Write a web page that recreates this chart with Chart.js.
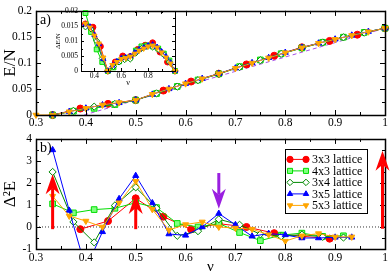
<!DOCTYPE html>
<html>
<head>
<meta charset="utf-8">
<script src="https://cdn.jsdelivr.net/npm/chart.js@4.4.1/dist/chart.umd.min.js"></script>
<style>
  html, body { margin: 0; padding: 0; background: #fff; }
  #wrap { position: relative; width: 390px; height: 273px; overflow: hidden; }
  canvas { position: absolute; }
  #top { left: 0; top: 0; }
  #bottom { left: 0; top: 128px; }
  #inset { left: 48px; top: 3px; }
</style>
</head>
<body>
<div id="wrap">
  <canvas id="top" width="390" height="128"></canvas>
  <canvas id="bottom" width="390" height="145"></canvas>
  <canvas id="inset" width="132" height="88"></canvas>
</div>
<script>
// ---- data ----
const labels = ["3x3 lattice", "4x3 lattice", "3x4 lattice", "3x5 lattice", "5x3 lattice"];

// fillings
const nu18 = [6/18, 7/18, 8/18, 9/18, 10/18, 11/18, 12/18, 13/18, 14/18, 15/18, 16/18, 17/18, 18/18];
const nu24 = [8/24, 9/24, 10/24, 11/24, 12/24, 13/24, 14/24, 15/24, 16/24, 17/24, 18/24, 19/24, 20/24, 21/24, 22/24, 23/24, 24/24];
const nu30 = [10/30, 11/30, 12/30, 13/30, 14/30, 15/30, 16/30, 17/30, 18/30, 19/30, 20/30,
              21/30, 22/30, 23/30, 24/30, 25/30, 26/30, 27/30, 28/30, 29/30, 30/30];
const nu30b = [9/30, 10/30, 11/30, 12/30, 13/30, 14/30, 15/30, 16/30, 17/30, 18/30, 19/30, 20/30,
               21/30, 22/30, 23/30, 24/30, 25/30, 26/30, 27/30, 28/30, 29/30, 30/30];

// panel a): E/N
const en3x3 = [0.000, 0.0124, 0.0214, 0.0286, 0.0469, 0.0643, 0.0794, 0.0972, 0.1139, 0.1301, 0.1423, 0.1543, 0.1667];
const en4x3 = [0.000, 0.0073, 0.0128, 0.0201, 0.0286, 0.0413, 0.0548, 0.0673, 0.0791, 0.0929, 0.1058, 0.1177, 0.1289, 0.1397, 0.1495, 0.1587, 0.1667];
const en3x4 = [0.000, 0.0081, 0.0161, 0.0213, 0.0286, 0.0416, 0.0546, 0.0669, 0.0786, 0.0921, 0.1051, 0.1174, 0.1287, 0.1394, 0.1492, 0.1582, 0.1667];
const en3x5 = [0.000, 0.0066, 0.0130, 0.0192, 0.0234, 0.0286, 0.0396, 0.0502, 0.0604, 0.0699, 0.0796,
               0.0900, 0.1002, 0.1100, 0.1200, 0.1295, 0.1379, 0.1456, 0.1531, 0.1603, 0.1667];
const en5x3 = [0.000, 0.000, 0.0063, 0.0128, 0.0194, 0.0239, 0.0286, 0.0398, 0.0500, 0.0602, 0.0697, 0.0794,
               0.0896, 0.0998, 0.1097, 0.1197, 0.1292, 0.1377, 0.1453, 0.1528, 0.1600, 0.1667];
// violet dashed reference line
const refNu = [0.3965, 1.0];
const refEn = [0.0, 0.1667];

// inset: dE/N
const de3x3 = [0.0157, 0.0146, 0.0082, 0, 0.0030, 0.0050, 0.0048, 0.0072, 0.0086, 0.0094, 0.0063, 0.0030, 0];
const de4x3 = [0.0193, 0.0130, 0.0072, 0.0030, 0, 0.0012, 0.0032, 0.0042, 0.0045, 0.0068, 0.0082, 0.0085, 0.0082, 0.0075, 0.0058, 0.0035, 0];
const de3x4 = [0.0147, 0.0140, 0.0100, 0.0042, 0, 0.0015, 0.0030, 0.0038, 0.0040, 0.0060, 0.0075, 0.0082, 0.0080, 0.0072, 0.0055, 0.0030, 0];
const de3x5 = [0.0155, 0.0148, 0.0120, 0.0090, 0.0040, 0, 0.0018, 0.0032, 0.0042, 0.0045, 0.0050,
               0.0062, 0.0072, 0.0078, 0.0085, 0.0088, 0.0080, 0.0065, 0.0048, 0.0028, 0];
const de5x3 = [0.0158, 0.0145, 0.0118, 0.0092, 0.0045, 0, 0.0020, 0.0030, 0.0040, 0.0043, 0.0048,
               0.0058, 0.0068, 0.0075, 0.0082, 0.0085, 0.0078, 0.0062, 0.0045, 0.0025, 0];

// panel b): second difference
const gNu18 = [7/18, 8/18, 9/18, 10/18, 11/18, 12/18, 13/18, 14/18, 15/18, 16/18];
const gNu24 = [8/24, 9/24, 10/24, 11/24, 12/24, 13/24, 14/24, 15/24, 16/24, 17/24, 18/24, 19/24, 20/24, 21/24, 22/24];
const gNu30 = [10/30, 11/30, 12/30, 13/30, 14/30, 15/30, 16/30, 17/30, 18/30, 19/30,
               20/30, 21/30, 22/30, 23/30, 24/30, 25/30, 26/30, 27/30, 28/30];
const gap3x3 = [-0.1, 0.27, 1.3, 0.47, -0.11, 0.15, 0.0, -0.28, -0.42, -0.53];
const gap4x3 = [1.05, 0.64, 0.79, 0.85, 1.1, 0.88, 0.16, 0.0, 0.16, -0.25, -0.62, -0.37, -0.28, -0.43, -0.4];
const gap3x4 = [2.5, 0.23, -0.7, 0.98, 1.8, 0.85, -0.4, -0.19, 0.35, 0.1, -0.33, -0.42, -0.35, -0.45, -0.48];
const gap3x5 = [3.5, 0.75, -1.9, -0.22, 1.28, 2.33, 1.09, -0.32, -0.38, 0.0, 0.61, 0.1, -0.42, -0.3, -0.36, -0.5, -0.5, -0.47, -0.47];
const gap5x3 = [1.4, 0.5, 0.27, 0.0, 1.1, 2.08, 0.8, -0.14, 0.11, 0.23, 0.0, -0.05, -0.1, -0.35, -0.64, -0.4, -0.3, -0.45, -0.45];
const zeroNu = [0.3, 1.0];
const zeroY = [0, 0];

// arrows in panel b)
const arrowNu = [1/3, 0.5, 2/3, 0.995];
const arrowFrom = [-0.1, -0.1, 2.45, -0.08];
const arrowTo = [2.4, 1.5, 0.83, 3.46];
const arrowColor = ["#ff0000", "#ff0000", "#9a1fe0", "#ff0000"];

// ticks
const xTicks = [0.3, 0.4, 0.5, 0.6, 0.7, 0.8, 0.9, 1.0];
const xTickLabels = ["0.3", "0.4", "0.5", "0.6", "0.7", "0.8", "0.9", "1"];
const enTicks = [0, 0.05, 0.1, 0.15, 0.2];
const enTickLabels = ["0", "0.05", "0.1", "0.15", "0.2"];
const gapTicks = [-1, 0, 1, 2, 3, 4];
const gapTickLabels = ["-1", "0", "1", "2", "3", "4"];
const inXTicks = [0.4, 0.6, 0.8, 1.0];
const inXTickLabels = ["0.4", "0.6", "0.8", ""];
const inYTicks = [0, 0.005, 0.01, 0.015, 0.02];
const inYTickLabels = ["0", "0.005", "0.01", "0.015", "0.02"];

// ---- styling ----
const SERIF = '"Liberation Serif", "DejaVu Serif", serif';
const styles = [
    { color: "#ff0000", fill: "#ff0000", shape: "circle", r: 3.5, rot: 0 },
    { color: "#00dd00", fill: "#80ff80", shape: "rect", r: 4, rot: 0 },
    { color: "#008a00", fill: "#ffffff", shape: "rectRot", r: 3.6, rot: 0 },
    { color: "#0000ff", fill: "#0000ff", shape: "triangle", r: 3.5, rot: 0 },
    { color: "#ffa500", fill: "#ffa500", shape: "triangle", r: 3.5, rot: 180 },
];

const pts = (xs, ys) => xs.map((x, i) => ({ x: x, y: ys[i] }));

function seriesSets(xsList, ysList, rScale, clip) {
    return ysList.map((ys, i) => {
        const s = styles[i];
        return {
            label: labels[i],
            inLegend: true,
            data: pts(xsList[i], ys),
            showLine: true,
            borderColor: s.color,
            backgroundColor: s.fill,
            borderWidth: 1,
            pointStyle: s.shape,
            pointRotation: s.rot,
            pointRadius: s.r * rScale,
            pointBorderColor: s.color,
            pointBackgroundColor: s.fill,
            pointBorderWidth: 1,
            clip: clip,
            order: 5 - i,
        };
    });
}

function linAxis(min, max, ticks, tickLabels, o) {
    const ax = {
        type: "linear",
        min: min,
        max: max,
        grid: { display: false, drawTicks: false, tickLength: 0 },
        border: { display: false },
        afterBuildTicks: (s) => { s.ticks = ticks.map((v) => ({ value: v })); },
        ticks: {
            autoSkip: false,
            maxRotation: 0,
            padding: o.pad,
            color: "#000",
            font: { family: SERIF, size: o.fs },
            callback: (v, i) => tickLabels[i],
        },
        title: { display: false },
    };
    if (o.w !== undefined) ax.afterFit = (s) => { s.width = o.w; };
    if (o.h !== undefined) ax.afterFit = (s) => { s.height = o.h; };
    if (o.title) {
        ax.title = {
            display: true,
            text: o.title,
            color: "#000",
            font: { family: SERIF, size: o.tfs, lineHeight: o.tlh || 1.2 },
            padding: o.tpad,
        };
    }
    return ax;
}

// frame with inward ticks on all four sides, plus panel tag
const frameTicks = {
    id: "frameTicks",
    afterDatasetsDraw(chart, args, o) {
        const { ctx, chartArea: a } = chart;
        const xs = chart.scales.x, ys = chart.scales.y;
        ctx.save();
        ctx.strokeStyle = "#000";
        ctx.lineWidth = 1;
        ctx.beginPath();
        const xTick = (v, len) => {
            const px = Math.round(xs.getPixelForValue(v)) + 0.5;
            ctx.moveTo(px, a.bottom); ctx.lineTo(px, a.bottom - len);
            ctx.moveTo(px, a.top); ctx.lineTo(px, a.top + len);
        };
        const yTick = (v, len) => {
            const py = Math.round(ys.getPixelForValue(v)) + 0.5;
            ctx.moveTo(a.left, py); ctx.lineTo(a.left + len, py);
            ctx.moveTo(a.right, py); ctx.lineTo(a.right - len, py);
        };
        for (let k = Math.ceil(xs.min / o.xMinor - 1e-6); k * o.xMinor <= xs.max + 1e-9; k++) xTick(k * o.xMinor, o.minor);
        for (let k = Math.ceil(ys.min / o.yMinor - 1e-6); k * o.yMinor <= ys.max + 1e-9; k++) yTick(k * o.yMinor, o.minor);
        xs.ticks.forEach((t) => xTick(t.value, o.major));
        ys.ticks.forEach((t) => yTick(t.value, o.major));
        ctx.stroke();
        ctx.lineWidth = o.frame;
        ctx.strokeRect(Math.round(a.left) + 0.5, Math.round(a.top) + 0.5,
            Math.round(a.right - a.left), Math.round(a.bottom - a.top));
        if (o.tag) {
            ctx.fillStyle = "#000";
            ctx.font = "14px " + SERIF;
            ctx.textBaseline = "top";
            ctx.fillText(o.tag, a.left + 4, a.top + 2);
        }
        ctx.restore();
    },
};

// arrows, placed in data units of panel b)
const arrows = {
    id: "arrows",
    afterDatasetsDraw(chart, args, o) {
        if (!o.nu) return;
        const { ctx } = chart;
        const xs = chart.scales.x, ys = chart.scales.y;
        const L = 20, W = 7, N = 14;
        ctx.save();
        o.nu.forEach((v, i) => {
            const x = xs.getPixelForValue(v);
            const y0 = ys.getPixelForValue(o.from[i]);
            const y1 = ys.getPixelForValue(o.to[i]);
            const dir = Math.sign(y1 - y0);
            ctx.strokeStyle = o.color[i];
            ctx.fillStyle = o.color[i];
            ctx.lineWidth = 3;
            ctx.beginPath();
            ctx.moveTo(x, y0);
            ctx.lineTo(x, y1 - dir * N);
            ctx.stroke();
            ctx.beginPath();
            ctx.moveTo(x, y1);
            ctx.lineTo(x - W, y1 - dir * L);
            ctx.lineTo(x, y1 - dir * N);
            ctx.lineTo(x + W, y1 - dir * L);
            ctx.closePath();
            ctx.fill();
        });
        ctx.restore();
    },
};

// xmgrace-like legend box
const boxLegend = {
    id: "boxLegend",
    afterDatasetsDraw(chart, args, o) {
        if (!o.show) return;
        const { ctx, chartArea: a } = chart;
        const bx = a.left + o.dx, by = a.top + o.dy;
        ctx.save();
        ctx.fillStyle = "#fff";
        ctx.fillRect(bx, by, o.w, o.h);
        ctx.strokeStyle = "#000";
        ctx.lineWidth = 1;
        ctx.strokeRect(Math.round(bx) + 0.5, Math.round(by) + 0.5, o.w, o.h);
        const items = chart.data.datasets.filter((d) => d.inLegend);
        items.forEach((d, i) => {
            const y = by + o.first + i * o.row;
            ctx.strokeStyle = d.borderColor;
            ctx.lineWidth = 1;
            ctx.beginPath();
            ctx.moveTo(bx + 5, y);
            ctx.lineTo(bx + 21, y);
            ctx.stroke();
            [bx + 5, bx + 21].forEach((px) => {
                ctx.fillStyle = d.pointBackgroundColor;
                ctx.strokeStyle = d.pointBorderColor;
                Chart.helpers.drawPoint(ctx, {
                    pointStyle: d.pointStyle, rotation: d.pointRotation,
                    radius: d.pointRadius * 0.9, borderWidth: 1,
                }, px, y);
            });
            ctx.fillStyle = "#000";
            ctx.font = "12px " + SERIF;
            ctx.textBaseline = "middle";
            ctx.fillText(d.label, bx + 27, y + 0.5);
        });
        ctx.restore();
    },
};

const basePlugins = { legend: { display: false }, tooltip: { enabled: false } };

// ---- panel a) ----
const topSets = seriesSets([nu18, nu24, nu24, nu30, nu30b], [en3x3, en4x3, en3x4, en3x5, en5x3], 1, 6);
topSets.push({
    data: pts(refNu, refEn), showLine: true, borderColor: "#a64ee6", borderWidth: 1,
    borderDash: [4, 3], pointRadius: 0, order: 10,
});
new Chart(document.getElementById("top"), {
    type: "scatter",
    data: { datasets: topSets },
    options: {
        responsive: false, animation: false, events: [],
        layout: { padding: { left: 0, right: 4, top: 5, bottom: 0 } },
        scales: {
            x: linAxis(0.3, 1.0, xTicks, xTickLabels, { fs: 11.5, pad: 1, h: 13 }),
            y: linAxis(0, 0.2, enTicks, enTickLabels, {
                fs: 11.5, pad: 4, w: 36, title: "E/N", tfs: 17, tpad: { top: 0, bottom: 0 },
            }),
        },
        plugins: Object.assign({}, basePlugins, {
            frameTicks: { xMinor: 0.05, yMinor: 0.025, major: 5, minor: 3, frame: 1.5, tag: "a)" },
        }),
    },
    plugins: [frameTicks],
});

// ---- inset ----
const inSets = seriesSets([nu18, nu24, nu24, nu30, nu30], [de3x3, de4x3, de3x4, de3x5, de5x3], 0.85, 5);
new Chart(document.getElementById("inset"), {
    type: "scatter",
    data: { datasets: inSets },
    options: {
        responsive: false, animation: false, events: [],
        layout: { padding: { left: 0, right: 4, top: 8, bottom: 0 } },
        scales: {
            x: linAxis(0.3, 1.0, inXTicks, inXTickLabels, {
                fs: 7.5, pad: 1, h: 20, title: "\u03bd", tfs: 8, tlh: 1, tpad: { top: 0, bottom: 4 },
            }),
            y: linAxis(0, 0.02, inYTicks, inYTickLabels, {
                fs: 7.5, pad: 3, w: 33, title: "\u0394E/N", tfs: 7, tpad: { top: 6, bottom: 0 },
            }),
        },
        plugins: Object.assign({}, basePlugins, {
            frameTicks: { xMinor: 0.1, yMinor: 0.0025, major: 3, minor: 2, frame: 1 },
        }),
    },
    plugins: [frameTicks],
});

// ---- panel b) ----
const clipB = { left: 6, right: 6, top: 6, bottom: 0 };
const botSets = seriesSets([gNu18, gNu24, gNu24, gNu30, gNu30], [gap3x3, gap4x3, gap3x4, gap3x5, gap5x3], 1, clipB);
botSets.push({
    data: pts(zeroNu, zeroY), showLine: true, borderColor: "#333", borderWidth: 1,
    borderDash: [1, 2], pointRadius: 0, order: 10,
});
new Chart(document.getElementById("bottom"), {
    type: "scatter",
    data: { datasets: botSets },
    options: {
        responsive: false, animation: false, events: [],
        layout: { padding: { left: 0, right: 4, top: 10, bottom: 0 } },
        scales: {
            x: linAxis(0.3, 1.0, xTicks, xTickLabels, {
                fs: 11.5, pad: 2, h: 24, title: "\u03bd", tfs: 15, tlh: 0.8, tpad: { top: 0, bottom: 0 },
            }),
            y: linAxis(-1, 4, gapTicks, gapTickLabels, {
                fs: 11.5, pad: 4, w: 36, title: "\u0394\u00b2E", tfs: 17, tpad: { top: 0, bottom: 0 },
            }),
        },
        plugins: Object.assign({}, basePlugins, {
            frameTicks: { xMinor: 0.05, yMinor: 0.5, major: 5, minor: 3, frame: 1.5, tag: "b)" },
            arrows: { nu: arrowNu, from: arrowFrom, to: arrowTo, color: arrowColor },
            boxLegend: { show: true, dx: 249, dy: 10, w: 82, h: 64, first: 10.5, row: 11.5 },
        }),
    },
    plugins: [frameTicks, arrows, boxLegend],
});
</script>
</body>
</html>
